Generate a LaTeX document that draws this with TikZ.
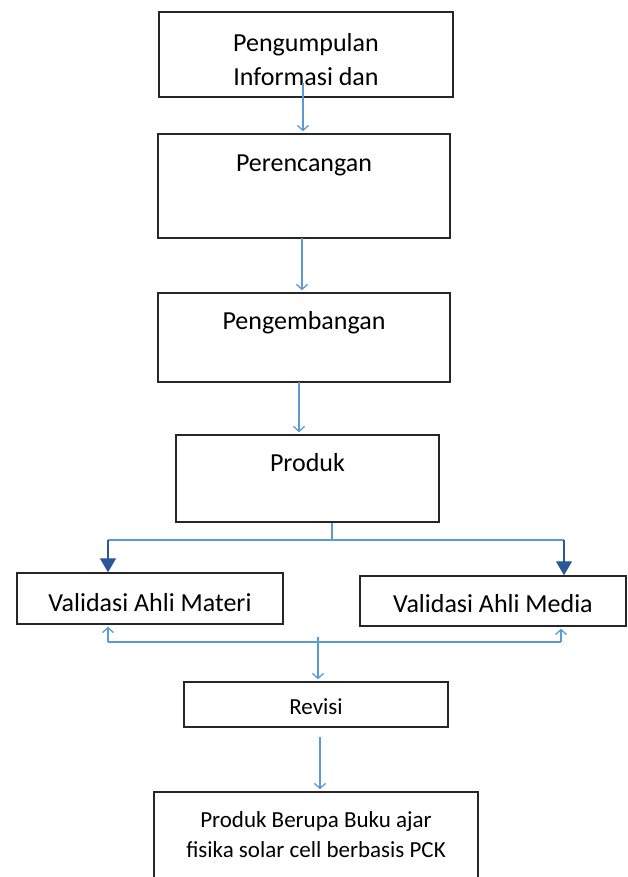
\documentclass[tikz,border=0pt]{standalone}
\usepackage{fontspec}
\setmainfont{Carlito}
\usetikzlibrary{arrows.meta}
\definecolor{linkblue}{HTML}{5B9BD5}
\definecolor{tipblue}{HTML}{2B5797}

\begin{document}
\begin{tikzpicture}[x=1pt, y=-1pt,
  box/.style n args={2}{draw=black!85, line width=1.4pt, inner sep=0pt,
    minimum width=#1, minimum height=#2},
  txt/.style={font=\fontsize{26}{34}\selectfont, align=center, inner sep=0pt},
  smalltxt/.style={font=\fontsize{23}{30}\selectfont, align=center, inner sep=0pt},
  bus/.style={draw=linkblue, line width=1.3pt},
  flow/.style={bus, -{Straight Barb[length=5pt,width=11pt]}, shorten >=2pt},
  down/.style={draw=tipblue, line width=1.3pt, -{Triangle[length=14pt,width=16pt]}}]

% the page is the size of the picture, in pixels
\useasboundingbox (0,0) rectangle (627,877);

% main column
\node[box={294}{85}] (info) at (306,54.5) {};
\node[txt] (info-t) at (306,60) {Pengumpulan\\Informasi dan};
\node[box={292}{104}] (rencana) at (304,186) {};
\node[txt] (rencana-t) at (304,165) {Perencangan};
\node[box={292}{89}] (kembang) at (304,337.5) {};
\node[txt] (kembang-t) at (304,323) {Pengembangan};
\node[box={263}{87}] (produk) at (307.5,478.5) {};
\node[txt] (produk-t) at (307.5,463) {Produk};

% the two validations
\node[box={266}{51}] (materi) at (150,598.5) {};
\node[txt] (materi-t) at (150,603) {Validasi Ahli Materi};
\node[box={266}{50}] (media) at (493,601) {};
\node[txt] (media-t) at (493,604) {Validasi Ahli Media};

\node[box={264}{45}] (revisi) at (316,704.5) {};
\node[smalltxt] (revisi-t) at (316,707) {Revisi};
\node[box={324}{100}] (final) at (316,842) {};
\node[smalltxt] (final-t) at (316,835) {Produk Berupa Buku ajar\\fisika solar cell berbasis PCK};

% arrows down the column
\coordinate (a1) at (303,83);
\draw[flow] (a1) -- (a1 |- rencana.north);
\coordinate (a2) at (302,238);
\draw[flow] (a2) -- (a2 |- kembang.north);
\coordinate (a3) at (299,382);
\draw[flow] (a3) -- (a3 |- produk.north);

% split into the two validations
\coordinate (split) at (332,540);
\coordinate (splitL) at (108,540);
\coordinate (splitR) at (564,540);
\draw[bus] (produk.south -| split) -- (split);
\draw[bus] (splitL) -- (splitR);
\draw[down] (splitL) -- (splitL |- materi.north);
\draw[down] (splitR) -- (splitR |- media.north);

% back from the validations, on to the revision
\coordinate (mergeL) at (108,642);
\coordinate (mergeR) at (561,642);
\draw[bus] (mergeL) -- (mergeR);
\draw[flow] (mergeL) -- (mergeL |- materi.south);
\draw[flow] (mergeR) -- (mergeR |- media.south);
\coordinate (a5) at (318,637);
\draw[flow] (a5) -- (a5 |- revisi.north);
\coordinate (a6) at (320,737);
\draw[flow] (a6) -- (a6 |- final.north);
\end{tikzpicture}
\end{document}
